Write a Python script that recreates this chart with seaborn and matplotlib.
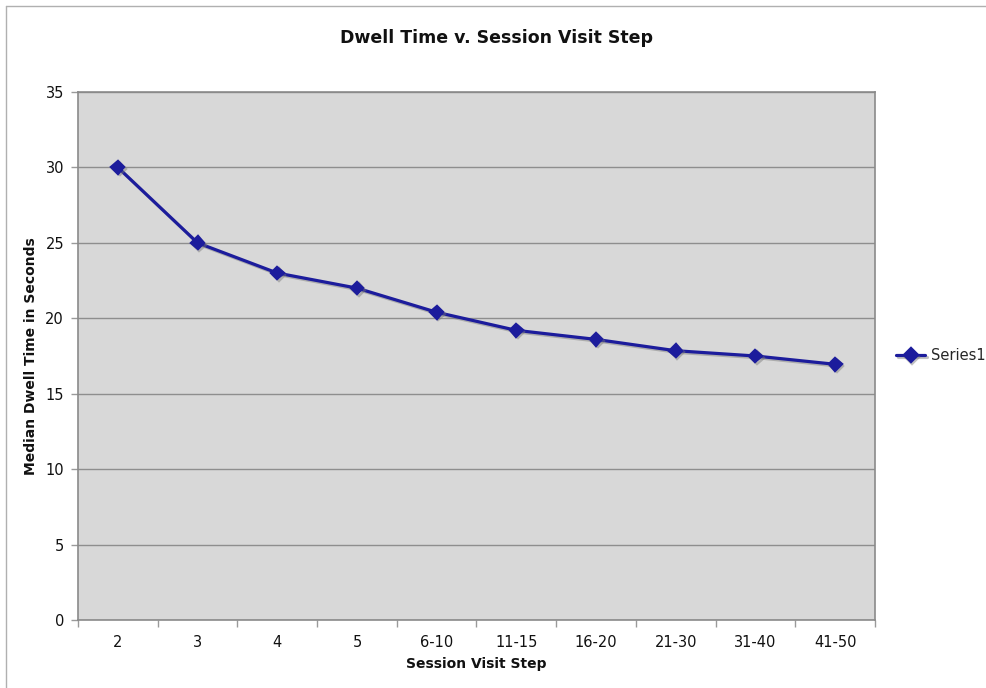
import matplotlib
matplotlib.use("Agg")
import matplotlib.pyplot as plt
import matplotlib.patheffects as pe
from matplotlib.lines import Line2D
import seaborn as sns
import numpy as np

steps = ["2", "3", "4", "5", "6-10", "11-15", "16-20", "21-30", "31-40", "41-50"]
median_dwell = [30, 25, 23, 22, 20.4, 19.2, 18.6, 17.85, 17.5, 16.95]
y_ticks = [0, 5, 10, 15, 20, 25, 30, 35]
series_name = "Series1"

sns.set_theme(style="white")
plt.rcParams["font.family"] = ["DejaVu Sans"]

fig = plt.figure(figsize=(9.87, 6.88), dpi=100)
ax = fig.add_axes([78 / 987, 1 - 620 / 688, (875 - 78) / 987, (620 - 92) / 688])
ax.set_facecolor("#d8d8d8")

line_color = "#1c1c9c"
sns.pointplot(x=steps, y=median_dwell, ax=ax, color=line_color, markers="D",
              markersize=6.5, linewidth=2.3, label=series_name, order=steps)

shadow = [pe.SimpleLineShadow(offset=(1.2, -1.2), shadow_color="#777777", alpha=0.45),
          pe.Normal()]
for ln in ax.lines:
    ln.set_path_effects(shadow)
for coll in ax.collections:
    coll.set_path_effects([pe.SimplePatchShadow(offset=(1.2, -1.2), shadow_rgbFace="#777777", alpha=0.45),
                           pe.Normal()])

ax.set_ylim(0, 35)
ax.set_xlim(-0.5, len(steps) - 0.5)
ax.set_yticks(y_ticks)
ax.yaxis.grid(True, color="#8e8e8e", linewidth=1.0)
ax.xaxis.grid(False)
ax.set_axisbelow(True)

# category labels centred, tick marks on the category boundaries
ax.set_xticks(np.arange(len(steps)))
ax.set_xticklabels(steps)
ax.set_xticks(np.arange(len(steps) + 1) - 0.5, minor=True)
ax.tick_params(axis="x", which="major", length=0, pad=11, labelsize=10.5, labelcolor="#111111")
ax.tick_params(axis="x", which="minor", length=5, width=1, color="#9a9a9a", direction="out")
ax.tick_params(axis="y", which="major", length=5, width=1, color="#9a9a9a", direction="out",
               pad=5, labelsize=10.5, labelcolor="#111111")
ax.tick_params(bottom=True, left=True, which="both")

for side in ["left", "bottom", "right", "top"]:
    ax.spines[side].set_visible(True)
    ax.spines[side].set_color("#8a8a8a")
    ax.spines[side].set_linewidth(1.2)

ax.set_xlabel("Session Visit Step", fontsize=10, fontweight="bold", labelpad=5, color="#111111")
ax.set_ylabel("Median Dwell Time in Seconds", fontsize=10, fontweight="bold", labelpad=5,
              color="#111111")
fig.text(0.503, 1 - 38 / 688, "Dwell Time v. Session Visit Step", ha="center", va="center",
         fontsize=12.5, fontweight="bold", color="#111111")

leg = ax.legend(loc="center left", bbox_to_anchor=(1.01, 0.5), frameon=False, fontsize=10.5,
                handlelength=2.0, handletextpad=0.4, markerscale=1.1)

# outer chart frame
fig.add_artist(Line2D([6 / 987, 1], [1 - 6 / 688, 1 - 6 / 688], transform=fig.transFigure,
                      color="#b0b0b0", linewidth=1.0))
fig.add_artist(Line2D([6 / 987, 6 / 987], [0, 1 - 6 / 688], transform=fig.transFigure,
                      color="#b0b0b0", linewidth=1.0))

fig.savefig("out.png", dpi=100)
